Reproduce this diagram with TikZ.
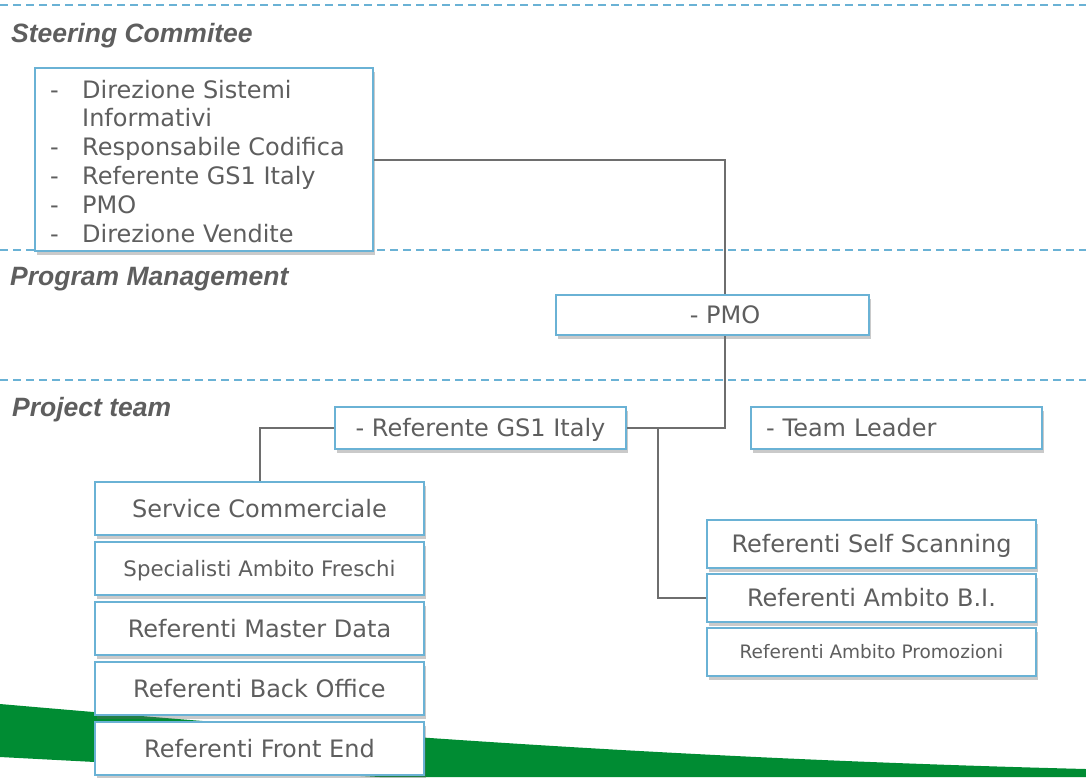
\documentclass[tikz,border=0pt]{standalone}
\usepackage{fontspec}
\setmainfont{DejaVu Sans}
\newfontfamily\headfont{Liberation Sans}
\usetikzlibrary{shadows}
\definecolor{boxblue}{HTML}{6AB2D5}
\definecolor{txtgray}{HTML}{5E5E5E}
\definecolor{linegray}{HTML}{6E6E6E}
\definecolor{bandgreen}{HTML}{008C33}
\tikzset{
  orgbox/.style={draw=boxblue, line width=2pt, fill=white, inner sep=0pt,
    text=txtgray, font=\fontsize{24}{28.8}\selectfont,
    text height=17.5pt, text depth=0pt,
    drop shadow={shadow xshift=2pt, shadow yshift=-4pt, opacity=0.35, fill=black!60}},
  leftbox/.style={orgbox, minimum width=329pt, minimum height=53pt},
  rightbox/.style={orgbox, minimum width=329pt, minimum height=48pt},
  heading/.style={anchor=base west, inner sep=0pt, text=txtgray,
    font=\headfont\bfseries\itshape\fontsize{26.5}{30}\selectfont},
  sepline/.style={draw=boxblue, line width=2pt, dash pattern=on 8pt off 5pt},
  conn/.style={draw=linegray, line width=2pt}
}
\begin{document}
\begin{tikzpicture}[x=1pt,y=-1pt]
\useasboundingbox (0,0) rectangle (1086,777);
% green band
\fill[bandgreen] (0,704) .. controls (300,730) and (650,758) .. (1086,769)
  -- (1086,777) -- (380,777) -- (0,757) -- cycle;
% separators
\draw[sepline] (0,5) -- (1086,5);
\draw[sepline] (0,250) -- (1086,250);
\draw[sepline] (0,380) -- (1086,380);
% headings
\node[heading] (h1) at (11,42) {Steering Commitee};
\node[heading] (h2) at (10,285) {Program Management};
\node[heading] (h3) at (12,416) {Project team};
% steering box
\node[orgbox, minimum width=338pt, minimum height=183pt, anchor=north west] (steer) at (34,67) {};
\node[anchor=base west, inner sep=0pt, text=txtgray, font=\fontsize{24}{28.8}\selectfont] (steertext) at (50,98)
  {\begin{tabular}[t]{@{}p{32pt}@{}l@{}}
   -&Direzione Sistemi\\
    &Informativi\\
   -&Responsabile Codifica\\
   -&Referente GS1 Italy\\
   -&PMO\\
   -&Direzione Vendite
   \end{tabular}};
% PMO
\node[orgbox, minimum width=313pt, minimum height=40pt] (pmo) at (712.5,315) {\hspace*{25pt}- PMO};
% project team
\node[orgbox, minimum width=291pt, minimum height=42pt] (ref) at (480.5,428) {- Referente GS1 Italy};
\node[orgbox, minimum height=42pt, text width=261pt, inner xsep=15pt, align=left] (tl) at (896.5,428) {- Team Leader};
\node[leftbox] (svc) at (259.5,508.5) {Service Commerciale};
\node[leftbox, font=\fontsize{21.3}{25}\selectfont, text height=15.5pt] (spec) at (259.5,568.5) {Specialisti Ambito Freschi};
\node[leftbox] (md) at (259.5,628.5) {Referenti Master Data};
\node[leftbox] (bo) at (259.5,688.5) {Referenti Back Office};
\node[leftbox] (fe) at (259.5,748.5) {Referenti Front End};
\node[rightbox] (ss) at (871.5,544) {Referenti Self Scanning};
\node[rightbox] (bi) at (871.5,598) {Referenti Ambito B.I.};
\node[rightbox, font=\fontsize{18.5}{22}\selectfont, text height=13.5pt] (promo) at (871.5,652) {Referenti Ambito Promozioni};
% connectors
\coordinate (pmox) at ([xshift=12.5pt]pmo.north);
\coordinate (pmoxs) at ([xshift=12.5pt]pmo.south);
\coordinate (br) at ([xshift=31pt]ref.east);
\draw[conn] (steer.east) -| (pmox);
\draw[conn] (pmoxs) |- (ref.east);
\draw[conn] (br) |- (bi.west);
\draw[conn] (ref.west) -| (svc.north);
\end{tikzpicture}
\end{document}
